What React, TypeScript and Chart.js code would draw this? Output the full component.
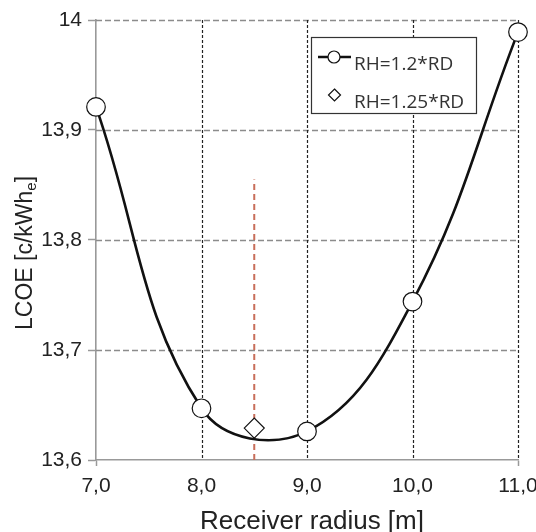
import React, { useEffect, useRef } from "react";
import { Chart, registerables } from "chart.js";

Chart.register(...registerables);

// ---- data ----
const radiusM = [7, 8, 9, 10, 11];
const lcoeRH120 = [13.921, 13.647, 13.626, 13.744, 13.989];
const radiusRH125 = [8.5];
const lcoeRH125 = [13.629];
const optimumRadius = 8.5;
const optimumLineRange = [13.6, 13.855];

const xTickValues = [7, 8, 9, 10, 11];
const xTickLabels = ["7,0", "8,0", "9,0", "10,0", "11,0"];
const yTickValues = [13.6, 13.7, 13.8, 13.9, 14];
const yTickLabels = ["13,6", "13,7", "13,8", "13,9", "14"];

const legendLabels = ["RH=1.2*RD", "RH=1.25*RD"];
const xTitle = "Receiver radius [m]";
const yTitleMain = "LCOE [c/kWh";
const yTitleSub = "e";
const yTitleEnd = "]";

const FONT = '"Liberation Sans", Arial, sans-serif';

const decorPlugin = {
  id: "decor",
  beforeDatasetsDraw(chart: any) {
    const { ctx, chartArea, scales } = chart;
    const xs = scales.x;
    const ys = scales.y;
    ctx.save();
    // horizontal gray dashed grid
    ctx.strokeStyle = "#8c8c8c";
    ctx.lineWidth = 1.3;
    ctx.setLineDash([6, 3]);
    yTickValues.forEach((v) => {
      if (v === yTickValues[0]) return;
      const y = Math.round(ys.getPixelForValue(v)) + 0.5;
      ctx.beginPath();
      ctx.moveTo(chartArea.left, y);
      ctx.lineTo(chartArea.right, y);
      ctx.stroke();
    });
    // vertical black dashed grid
    ctx.strokeStyle = "#222";
    ctx.lineWidth = 1.2;
    ctx.setLineDash([3, 2]);
    xTickValues.forEach((v) => {
      if (v === xTickValues[0]) return;
      const x = Math.round(xs.getPixelForValue(v)) + 0.5;
      ctx.beginPath();
      ctx.moveTo(x, chartArea.top);
      ctx.lineTo(x, chartArea.bottom);
      ctx.stroke();
    });
    ctx.restore();
  },
  afterDraw(chart: any) {
    const { ctx, chartArea, scales } = chart;
    const xs = scales.x;
    ctx.save();
    ctx.fillStyle = "#222";
    // x tick labels
    ctx.font = `21px ${FONT}`;
    ctx.textAlign = "center";
    ctx.textBaseline = "middle";
    xTickValues.forEach((v, i) => {
      ctx.fillText(xTickLabels[i], xs.getPixelForValue(v), chartArea.bottom + 26);
    });
    // x title
    ctx.font = `26px ${FONT}`;
    ctx.textAlign = "center";
    ctx.textBaseline = "alphabetic";
    ctx.fillText(xTitle, (chartArea.left + chartArea.right) / 2 + 5, 529);

    // y title (rotated, with subscript)
    ctx.translate(32, 253);
    ctx.rotate(-Math.PI / 2);
    ctx.font = `23px ${FONT}`;
    const w1 = ctx.measureText(yTitleMain).width;
    const w3 = ctx.measureText(yTitleEnd).width;
    ctx.font = `15px ${FONT}`;
    const w2 = ctx.measureText(yTitleSub).width;
    const total = w1 + w2 + w3;
    const x0 = -total / 2;
    ctx.textAlign = "left";
    ctx.font = `23px ${FONT}`;
    ctx.fillText(yTitleMain, x0, 0);
    ctx.font = `15px ${FONT}`;
    ctx.fillText(yTitleSub, x0 + w1, 4);
    ctx.font = `23px ${FONT}`;
    ctx.fillText(yTitleEnd, x0 + w1 + w2, 0);
    ctx.restore();

    // legend
    ctx.save();
    const bx = 311.5, by = 37.5, bw = 165, bh = 76;
    ctx.fillStyle = "#fff";
    ctx.fillRect(bx, by, bw, bh);
    ctx.strokeStyle = "#333";
    ctx.lineWidth = 1.2;
    ctx.strokeRect(bx, by, bw, bh);
    // entry 1
    ctx.strokeStyle = "#111";
    ctx.lineWidth = 2.5;
    ctx.beginPath();
    ctx.moveTo(318, 57);
    ctx.lineTo(351, 57);
    ctx.stroke();
    ctx.beginPath();
    ctx.arc(334, 57, 6, 0, Math.PI * 2);
    ctx.fillStyle = "#fff";
    ctx.fill();
    ctx.lineWidth = 1.2;
    ctx.stroke();
    // entry 2
    ctx.beginPath();
    ctx.moveTo(334.5, 89);
    ctx.lineTo(340.5, 95);
    ctx.lineTo(334.5, 101);
    ctx.lineTo(328.5, 95);
    ctx.closePath();
    ctx.fill();
    ctx.lineWidth = 1.2;
    ctx.stroke();
    ctx.fillStyle = "#333";
    ctx.font = `19px "Open Sans", sans-serif`;
    ctx.textAlign = "left";
    ctx.textBaseline = "alphabetic";
    ctx.fillText(legendLabels[0], 354, 70);
    ctx.fillText(legendLabels[1], 354, 108);
    ctx.restore();
  },
};

export default function App() {
  const canvasRef = useRef<HTMLCanvasElement | null>(null);

  useEffect(() => {
    if (!canvasRef.current) return;
    const chart = new Chart(canvasRef.current, {
      type: "scatter",
      data: {
        datasets: [
          {
            label: legendLabels[0],
            data: radiusM.map((x, i) => ({ x, y: lcoeRH120[i] })),
            showLine: true,
            tension: 0.4,
            borderColor: "#111",
            borderWidth: 2.6,
            pointRadius: 9.3,
            pointHoverRadius: 9.3,
            pointBackgroundColor: "#fff",
            pointBorderColor: "#111",
            pointBorderWidth: 1.2,
            clip: false,
            order: 1,
          } as any,
          {
            label: legendLabels[1],
            data: radiusRH125.map((x, i) => ({ x, y: lcoeRH125[i] })),
            pointStyle: "rectRot",
            pointRadius: 10,
            pointHoverRadius: 10,
            pointBackgroundColor: "#fff",
            pointBorderColor: "#111",
            pointBorderWidth: 1.2,
            clip: false,
            order: 2,
          } as any,
          {
            label: "optimum",
            data: optimumLineRange.map((y) => ({ x: optimumRadius, y })),
            showLine: true,
            borderColor: "rgb(200,110,90)",
            borderWidth: 2,
            borderDash: [6, 4],
            pointRadius: 0,
            pointHoverRadius: 0,
            clip: false,
            order: 3,
          } as any,
        ],
      },
      options: {
        animation: false,
        responsive: true,
        maintainAspectRatio: false,
        events: [],
        layout: {
          autoPadding: false,
          padding: { left: 0, top: 20, right: 18, bottom: 0 },
        } as any,
        plugins: {
          legend: { display: false },
          tooltip: { enabled: false },
        },
        scales: {
          x: {
            type: "linear",
            min: 7,
            max: 11,
            afterBuildTicks: (scale: any) => {
              scale.ticks = xTickValues.map((value) => ({ value }));
            },
            afterFit: (scale: any) => {
              scale.height = 72;
            },
            grid: {
              drawOnChartArea: false,
              drawTicks: true,
              tickLength: 6,
              tickColor: (c: any) =>
                c.tick && (c.tick.value === 7 || c.tick.value === 11) ? "#999" : "rgba(0,0,0,0)",
              tickWidth: 1.5,
            },
            border: { display: true, color: "#999", width: 1.6 },
            ticks: { display: false },
          },
          y: {
            type: "linear",
            min: 13.6,
            max: 14,
            afterBuildTicks: (scale: any) => {
              scale.ticks = yTickValues.map((value) => ({ value }));
            },
            afterFit: (scale: any) => {
              scale.width = 96;
            },
            grid: {
              drawOnChartArea: false,
              drawTicks: true,
              tickLength: 8,
              tickColor: "#999",
              tickWidth: 1.5,
            },
            border: { display: true, color: "#999", width: 1.6 },
            ticks: {
              padding: 6,
              color: "#222",
              font: { family: FONT, size: 21 },
              autoSkip: false,
              callback: (v: any) => {
                const idx = yTickValues.findIndex((t) => Math.abs(t - Number(v)) < 1e-6);
                return idx >= 0 ? yTickLabels[idx] : "";
              },
            },
          },
        },
      },
      plugins: [decorPlugin],
    });
    return () => chart.destroy();
  }, []);

  return (
    <div style={{ position: "absolute", left: 0, top: 0, width: 536, height: 532, background: "#fff" }}>
      <canvas ref={canvasRef} />
    </div>
  );
}
